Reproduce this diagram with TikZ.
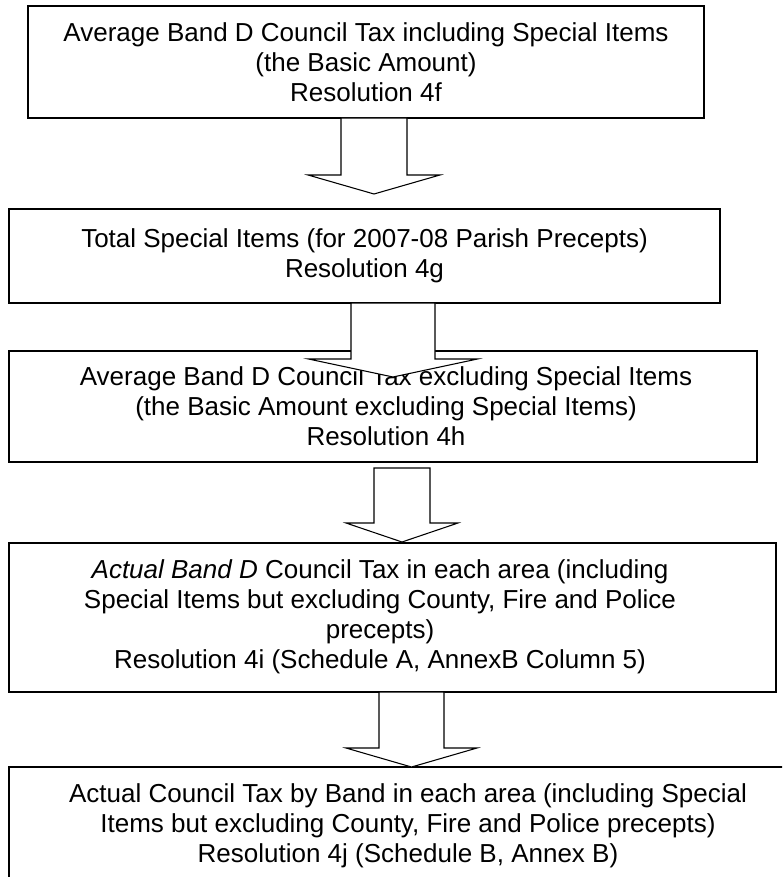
\documentclass[tikz,border=0pt]{standalone}
\usepackage{fontspec}
\setmainfont{Liberation Sans}
\begin{document}
\begin{tikzpicture}[x=0.75pt,y=-0.75pt,
  box/.style={draw=black, line width=1pt, fill=white, inner sep=0pt, align=center,
              font=\fontsize{19.5}{22.5}\selectfont},
  txt/.style={inner sep=0pt, align=center, font=\fontsize{19.5}{22.5}\selectfont},
  blockarrow/.style={draw=black, line width=0.8pt, fill=white, line join=miter}]
\useasboundingbox (0,0) rectangle (782,877);
\clip (0,0) rectangle (782,877);
\newcommand\barrow[6]{% cx, top, base, tip, shaft half width, head half width
  \draw[blockarrow] (#1-#5,#2) -- (#1-#5,#3) -- (#1-#6,#3) -- (#1,#4)
     -- (#1+#6,#3) -- (#1+#5,#3) -- (#1+#5,#2) -- cycle;}

\node[box, minimum width=507pt, minimum height=84pt] (b1) at (366,62)
  {Average Band D Council Tax including Special Items\\(the Basic Amount)\\Resolution 4f};
\node[box, minimum width=533.25pt, minimum height=70.5pt] (b2) at (364.5,256)
  {Total Special Items (for 2007-08 Parish Precepts)\\Resolution 4g};
\node[box, minimum width=561pt, minimum height=83.25pt] (b3) at (383,406.5) {};
\node[txt] (t3) at (386,406.5)
  {Average Band D Council Tax excluding Special Items\\(the Basic Amount excluding Special Items)\\Resolution 4h};
\node[box, minimum width=575.25pt, minimum height=111.75pt] (b4) at (392.5,617.5) {};
\node[txt] (t4) at (380,616.5)
  {\textit{Actual Band D} Council Tax in each area (including\\Special Items but excluding County, Fire and Police\\precepts)\\Resolution 4i (Schedule A, AnnexB Column 5)};
\node[box, minimum width=598.5pt, minimum height=88.5pt] (b5) at (408,826)
  {Actual Council Tax by Band in each area (including Special\\Items but excluding County, Fire and Police precepts)\\Resolution 4j (Schedule B, Annex B)};

\barrow{374}{118}{175}{194}{33}{66}
\barrow{393}{303}{359}{377}{42}{84.5}
\barrow{402}{468}{523}{542}{28}{56}
\barrow{411.5}{692}{748}{767}{32.5}{65.5}
\end{tikzpicture}
\end{document}
